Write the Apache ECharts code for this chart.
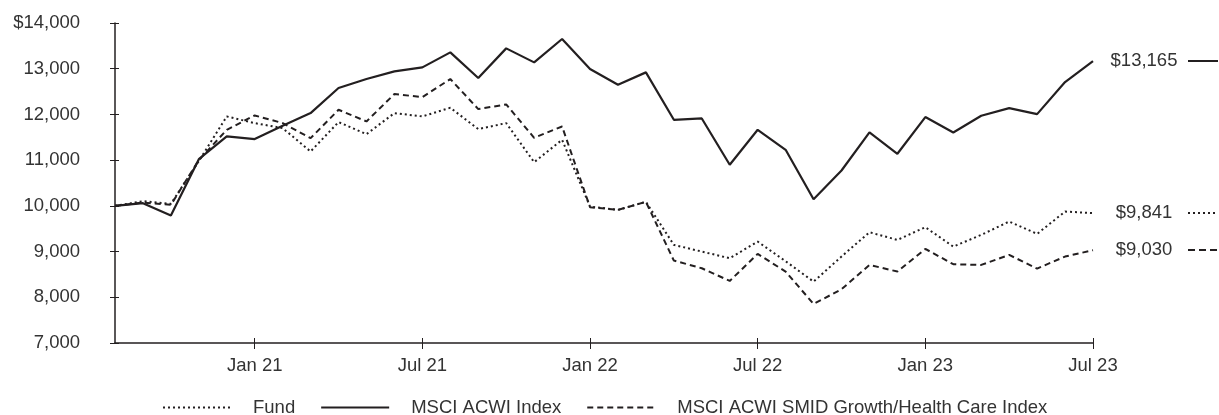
<!DOCTYPE html>
<html><head><meta charset="utf-8">
<script src="https://cdn.jsdelivr.net/npm/echarts@6/dist/echarts.min.js"></script>
<style>html,body{margin:0;padding:0;background:#fff}#c{width:1219px;height:415px}</style>
</head><body><div id="c"></div>
<script>
const months = ['Aug 20','Sep 20','Oct 20','Nov 20','Dec 20','Jan 21','Feb 21','Mar 21','Apr 21','May 21','Jun 21','Jul 21','Aug 21','Sep 21','Oct 21','Nov 21','Dec 21','Jan 22','Feb 22','Mar 22','Apr 22','May 22','Jun 22','Jul 22','Aug 22','Sep 22','Oct 22','Nov 22','Dec 22','Jan 23','Feb 23','Mar 23','Apr 23','May 23','Jun 23','Jul 23'];
const fund = [10000,10102,10044,10980,11956,11810,11700,11190,11832,11569,12029,11956,12146,11679,11810,10956,11445,9985,9912,10088,9146,9000,8854,9219,8788,8343,8891,9423,9255,9533,9109,9365,9657,9387,9876,9841];
const acwi = [10000,10058,9788,11022,11518,11460,11752,12029,12577,12774,12942,13029,13358,12796,13445,13139,13650,12993,12650,12920,11883,11912,10898,11664,11226,10146,10774,11606,11139,11942,11606,11971,12139,12007,12708,13165];
const smid = [10000,10073,10022,11000,11664,11978,11810,11482,12102,11847,12445,12380,12774,12117,12219,11489,11737,9971,9912,10088,8803,8635,8358,8949,8562,7854,8175,8708,8562,9058,8723,8708,8927,8628,8891,9030];
const seriesNames = ['Fund','MSCI ACWI Index','MSCI ACWI SMID Growth/Health Care Index'];
const yMin = 7000, yMax = 14000, yStep = 1000;

const ink = '#231f20';
const txt = '#333333';
const font = '"Liberation Sans", Arial, Helvetica, sans-serif';
const fs = 18.5;
const shown = (i) => /^(Jan|Jul)/.test(months[i]);
const fmt = (v) => v.toLocaleString('en-US');

// small stroke swatch used next to the end labels
function swatch(dash, gap) {
  const c = document.createElement('canvas');
  c.width = 30; c.height = 2;
  const g = c.getContext('2d');
  g.fillStyle = ink;
  for (let x = 0; x < c.width; x += dash + gap) g.fillRect(x, 0, Math.min(dash, c.width - x), c.height);
  return c;
}

function endLabel(img) {
  return {
    show: true, distance: 17,
    formatter: (p) => '{v|$' + fmt(p.value) + '}{g|}{l|}',
    rich: {
      v: { width: 68, align: 'right', fontSize: fs, color: txt, fontFamily: font },
      g: { width: 10 },
      l: { width: 30, height: 2, backgroundColor: { image: img } }
    }
  };
}

const chart = echarts.init(document.getElementById('c'), null, { renderer: 'canvas' });
chart.setOption({
  animation: false,
  backgroundColor: '#fff',
  textStyle: { fontFamily: font },
  grid: { left: 115, right: 126, top: 23, bottom: 72, containLabel: false },
  legend: {
    left: 157, top: 393,
    itemWidth: 68, itemHeight: 14, itemGap: 25,
    itemStyle: { opacity: 0 },
    textStyle: { fontSize: fs, color: txt, fontFamily: font, padding: [0, 0, 0, 17] },
    data: seriesNames
  },
  xAxis: [{
    type: 'category', data: months, boundaryGap: false,
    axisLine: { lineStyle: { color: ink, width: 1.5 } },
    axisTick: { show: true, length: 6, interval: (i) => shown(i), lineStyle: { color: ink } },
    axisLabel: { interval: (i) => shown(i), margin: 13, fontSize: fs, color: txt, fontFamily: font },
    splitLine: { show: false }
  }, {
    type: 'category', data: months, boundaryGap: false, position: 'bottom',
    axisLine: { show: false },
    axisTick: { show: true, inside: true, length: 5, interval: (i) => shown(i), lineStyle: { color: ink } },
    axisLabel: { show: false }, splitLine: { show: false }
  }],
  yAxis: [{
    type: 'value', min: yMin, max: yMax, interval: yStep,
    axisLine: { show: true, lineStyle: { color: ink, width: 1.5 } },
    axisTick: { show: true, length: 5, lineStyle: { color: ink } },
    axisLabel: { margin: 35, fontSize: fs, color: txt, fontFamily: font,
      formatter: (v) => (v === yMax ? '$' : '') + fmt(v) },
    splitLine: { show: false }
  }, {
    type: 'value', min: yMin, max: yMax, interval: yStep, position: 'left',
    axisLine: { show: false },
    axisTick: { show: true, inside: true, length: 4, lineStyle: { color: ink } },
    axisLabel: { show: false }, splitLine: { show: false }
  }],
  series: [{
    name: seriesNames[0], type: 'line', data: fund, symbol: 'none', color: ink,
    lineStyle: { color: ink, width: 2, type: [2, 3] },
    endLabel: endLabel(swatch(2, 3))
  }, {
    name: seriesNames[1], type: 'line', data: acwi, symbol: 'none', color: ink,
    lineStyle: { color: ink, width: 2.2 },
    endLabel: endLabel(swatch(30, 0))
  }, {
    name: seriesNames[2], type: 'line', data: smid, symbol: 'none', color: ink,
    lineStyle: { color: ink, width: 2, type: [6, 4] },
    endLabel: endLabel(swatch(7, 4))
  }]
});
</script></body></html>
